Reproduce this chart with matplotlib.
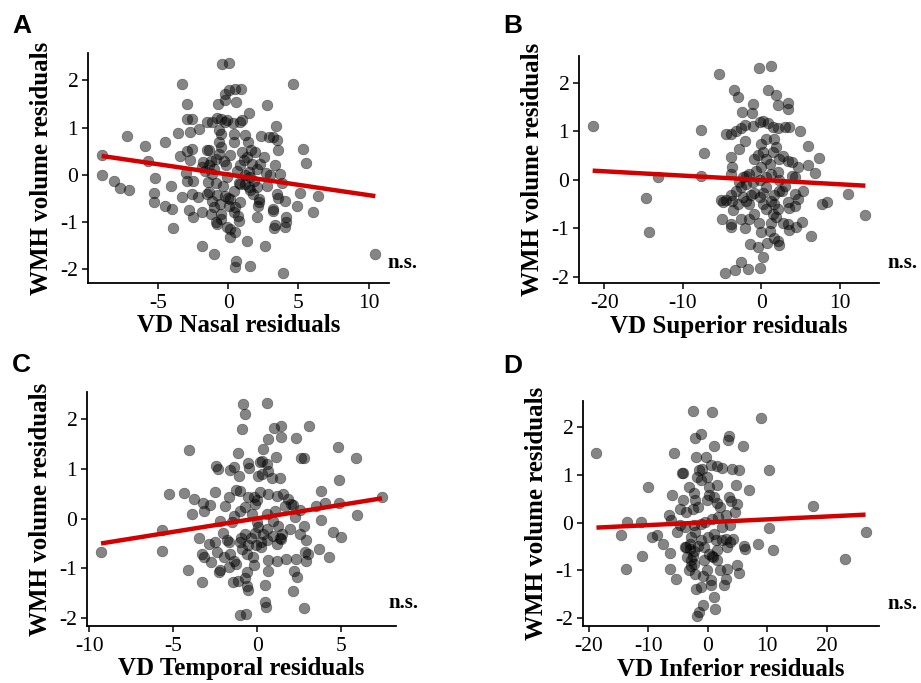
import numpy as np
import matplotlib
matplotlib.use('Agg')
import matplotlib.pyplot as plt

plt.rcParams['axes.unicode_minus'] = False
plt.rcParams['font.family'] = ['Liberation Serif', 'DejaVu Serif']

# (VD residual, WMH residual)
nasal = [(-9.0, 0.41), (-9.0, -0.01), (-8.1, -0.13), (-7.7, -0.28), (-7.06, -0.32), (-7.2, 0.82),
         (-5.95, 0.62), (-5.7, 0.30), (-5.2, -0.07), (-5.3, -0.39), (-5.3, -0.57), (-4.5, 0.70),
         (-4.5, -0.65), (-4.0, -0.72), (-4.1, -0.23), (-3.95, -1.13), (-3.27, 1.92), (-2.94, 1.50),
         (-3.55, 0.89), (-3.44, 0.40), (-3.3, -0.46), (-3.0, 0.04), (-2.94, 1.18), (-2.6, 1.18),
         (-2.75, 0.91), (-2.9, 0.50), (-2.59, 0.55), (-2.7, 0.32), (-2.9, -0.14), (-2.52, -0.14),
         (-2.78, -0.74), (-2.47, -0.90), (-2.54, -0.40), (-2.07, 0.98), (-2.14, -0.48), (-1.86, -1.50),
         (-1.84, -0.78), (-1.67, 0.09), (-1.76, 0.27), (-1.48, 1.13), (-1.18, 1.12), (-1.36, 0.52),
         (-1.44, -0.16), (-1.36, -0.37), (-1.48, -0.40), (-1.2, -0.83), (-1.0, -1.68), (-0.9, -1.0),
         (-0.78, -1.04), (-0.73, 1.51), (-0.82, 1.21), (-0.54, 1.18), (-0.66, 0.94), (-0.54, 0.87),
         (-0.54, 0.59), (-0.66, 0.45), (-0.9, 0.34), (-1.0, 0.13), (-1.13, 0.02), (-0.9, -0.18),
         (-0.78, -0.43), (-0.6, -0.62), (-0.47, 2.34), (0.09, 2.36), (-0.24, 1.72), (0.05, 1.79),
         (0.52, 1.81), (0.92, 1.82), (0.54, 1.55), (-0.26, 1.58), (-0.26, 1.12), (-0.07, 1.16),
         (0.35, 1.10), (0.82, 1.11), (0.99, 1.16), (1.46, 1.31), (1.22, 0.84), (1.39, 0.70),
         (0.4, 0.70), (0.16, 0.43), (-0.3, 0.30), (-0.14, 0.20), (-0.07, -0.05), (-0.35, -0.23),
         (-0.19, -0.44), (0.16, -0.51), (0.0, -0.49), (0.4, -0.35), (0.75, -0.18), (0.87, -0.19),
         (0.64, 0.09), (0.82, 0.20), (1.1, 0.32), (1.34, 0.38), (1.62, 0.52), (1.93, 0.48),
         (1.69, 0.23), (1.46, 0.06), (1.22, -0.01), (1.53, -0.05), (1.81, -0.12), (2.05, 0.13),
         (2.28, 0.23), (2.52, 0.38), (2.68, 0.04), (2.99, -0.01), (2.75, -0.23), (0.82, -0.58),
         (0.52, -0.69), (0.68, -0.87), (0.4, -0.79), (0.75, -0.97), (0.16, -1.15), (0.12, -1.31),
         (0.52, -1.22), (0.59, -1.82), (0.47, -1.96), (1.58, -1.94), (1.34, -1.40), (2.05, -0.89),
         (2.12, -0.65), (2.16, -0.58), (1.74, -0.40), (1.53, -0.33), (2.33, 0.82), (2.75, 1.49),
         (2.94, 0.80), (3.18, 0.80), (3.46, 0.73), (3.41, 1.04), (3.58, 0.52), (3.36, 0.20),
         (3.69, 0.02), (3.81, -0.18), (3.46, -0.40), (3.58, -0.49), (3.18, -0.72), (3.22, -0.77),
         (3.34, -1.06), (3.27, -1.13), (4.04, -0.55), (4.11, -0.90), (4.09, -1.0), (4.04, -1.10),
         (2.64, -1.50), (3.93, -2.07), (4.64, 1.92), (5.34, 0.55), (5.53, 0.25), (4.87, -0.65),
         (5.1, -0.39), (6.4, -0.44), (6.05, -0.78), (10.47, -1.68), (-0.66, 0.70), (-1.53, 0.52),
         (-1.25, 0.30), (-1.36, 0.21), (-1.84, 0.16), (-1.13, -0.55), (-1.0, -0.69), (-0.54, -0.83),
         (-0.54, -0.94), (-0.07, -1.11), (0.05, -0.65), (1.22, -0.19), (1.46, -0.26), (2.05, -0.26),
         (2.16, -0.51), (0.99, 0.48), (0.4, 0.87)]

superior = [(-21.5, 1.12), (-14.7, -0.38), (-14.3, -1.07), (-13.1, 0.07), (-7.7, 1.02), (-7.3, 0.55),
            (-7.7, 0.09), (-5.4, 2.19), (-5.1, -0.41), (-5.0, -0.81), (-4.6, -1.91), (-3.3, -1.86),
            (-2.6, -1.68), (-1.7, -1.84), (-0.1, -1.82), (0.3, -1.58), (-4.5, 0.94), (-3.5, 1.85),
            (-2.9, 1.71), (-3.8, 0.94), (-3.2, 1.0), (-2.6, 1.06), (-2.1, 1.14), (-2.4, 1.4),
            (-2.1, 0.81), (-2.8, 0.63), (-3.8, 0.47), (-3.7, 0.26), (-3.8, 0.12), (-4.5, -0.41),
            (-3.8, -0.32), (-3.7, -0.43), (-3.6, -0.61), (-3.8, -0.9), (-3.9, -0.96), (-2.6, -0.81),
            (-2.1, -1.0), (-1.5, -0.81), (-1.4, -1.32), (-1.1, 1.57), (-1.2, 1.38), (-0.3, 2.31),
            (1.3, 2.34), (0.85, 1.85), (1.9, 1.74), (2.1, 1.55), (3.4, 1.59), (3.4, 1.47),
            (-1.1, 1.12), (-0.2, 1.19), (0.2, 1.21), (0.85, 1.17), (1.5, 1.1), (2.1, 1.06),
            (3.0, 1.1), (3.6, 1.1), (0.0, 0.74), (0.6, 0.85), (1.7, 0.85), (1.9, 0.68),
            (1.5, 0.57), (4.9, 1.01), (6.0, 0.70), (7.4, 0.46), (6.0, 0.31), (6.9, 0.14),
            (4.0, 0.37), (4.7, 0.26), (3.4, 0.40), (2.8, 0.50), (2.3, 0.43), (-0.9, 0.43),
            (-0.4, 0.52), (0.2, 0.57), (0.6, 0.43), (1.1, 0.33), (0.0, 0.26), (-0.6, 0.19),
            (-1.5, 0.12), (-1.9, 0.09), (-2.3, 0.06), (-2.8, -0.05), (-2.6, -0.15), (-1.9, -0.08),
            (-1.1, -0.05), (-0.2, -0.01), (0.6, 0.06), (1.3, 0.12), (2.1, 0.16), (2.3, -0.01),
            (4.0, 0.09), (4.3, 0.06), (3.0, -0.12), (2.3, -0.22), (2.6, -0.23), (4.3, -0.28),
            (5.3, -0.22), (4.7, -0.39), (3.4, -0.46), (3.6, -0.57), (4.3, -0.53), (7.8, -0.5),
            (8.4, -0.45), (11.1, -0.28), (13.3, -0.72), (6.3, -1.15), (5.2, -0.86), (4.4, -0.97),
            (3.6, -1.03), (3.4, -0.9), (2.8, -0.88), (1.9, -0.77), (1.5, -0.7), (1.3, -0.88),
            (1.1, -1.05), (1.7, -1.19), (2.1, -1.26), (2.3, -1.34), (0.7, -1.3), (0.0, -1.08),
            (-0.4, -1.39), (-0.3, -0.88), (-0.9, -0.7), (-1.5, -0.5), (-1.9, -0.43), (-1.3, -0.32),
            (-0.9, -0.26), (-0.2, -0.36), (0.2, -0.5), (0.6, -0.6), (1.3, -0.43), (1.7, -0.32),
            (1.7, -0.5), (2.1, -0.6), (0.6, -0.15), (0.2, -0.26), (-2.3, -0.36), (-2.9, -0.5),
            (-3.2, -0.22), (-4.9, -0.46)]

temporal = [(-9.3, -0.68), (-5.67, -0.66), (-5.67, -0.23), (-5.27, 0.5), (-4.39, 0.51), (-4.06, 1.39),
            (-4.1, -1.03), (-3.31, -1.27), (-3.86, 0.09), (-3.76, 0.40), (-3.22, 0.31), (-3.18, 0.16),
            (-2.82, 0.28), (-3.47, -0.39), (-3.31, -0.71), (-3.18, -0.77), (-2.88, -0.51), (-2.78, -0.88),
            (-2.53, 0.53), (-2.49, 1.07), (-2.35, 1.0), (-2.53, -0.48), (-2.43, -0.68), (-2.29, -1.08),
            (-2.2, -1.03), (-2.24, -0.04), (-2.04, -0.28), (-1.8, -0.43), (-1.71, -0.48), (-2.0, -0.78),
            (-1.71, -0.98), (-1.94, 0.26), (-1.71, 0.43), (-1.65, 0.98), (-1.41, 1.05), (-1.16, 1.32),
            (-1.12, 0.87), (-1.41, 0.06), (-1.51, -0.07), (-1.65, -0.71), (-1.45, -1.28), (-1.18, -1.26),
            (-1.25, -0.91), (-1.41, -0.85), (-1.25, 0.58), (-1.02, 0.56), (-0.88, 2.31), (-0.76, 2.11),
            (-0.92, 1.81), (-0.53, 1.13), (-0.47, 1.03), (-1.06, 0.15), (-0.73, 0.23), (-0.53, 0.43),
            (-0.2, 0.44), (-0.04, 0.38), (-0.14, 0.30), (-0.33, 0.09), (-0.04, -0.07), (0.06, -0.17),
            (-0.14, -0.28), (-0.39, -0.38), (-0.73, -0.31), (-0.98, -0.38), (-1.06, -0.48), (-0.92, -0.61),
            (-0.53, -0.54), (-0.63, -0.71), (-0.27, -0.78), (-0.2, -0.93), (-0.63, -1.08), (-0.73, -1.19),
            (-0.63, -1.35), (-0.53, -1.44), (-1.02, -1.95), (-0.67, -1.92), (0.55, 2.34), (0.61, 1.6),
            (0.35, 1.4), (1.0, 1.82), (1.43, 1.87), (1.43, 1.64), (1.1, 1.25), (0.16, 1.15),
            (0.25, 1.16), (0.55, 1.1), (0.65, 0.97), (0.25, 0.9), (0.02, 0.87), (0.88, 0.83),
            (1.33, 0.82), (0.61, 0.5), (0.16, 0.53), (1.14, 0.46), (1.53, 0.5), (1.82, 0.40),
            (2.02, 0.30), (1.63, 0.26), (1.04, 0.16), (0.55, 0.09), (0.94, -0.04), (1.24, -0.14),
            (0.55, -0.21), (0.35, -0.31), (0.55, -0.44), (0.22, -0.48), (-0.08, -0.54), (0.22, -0.58),
            (0.94, -0.34), (1.33, -0.38), (1.14, -0.51), (1.39, -0.41), (1.49, -0.31), (1.92, -0.21),
            (2.22, 0.03), (2.51, 0.17), (2.12, 0.28), (2.61, 1.23), (2.75, 1.22), (2.27, 1.62),
            (3.1, 1.86), (3.49, 0.26), (4.04, 0.31), (3.78, 0.56), (4.86, 0.77), (4.82, 1.45),
            (5.84, 1.23), (5.9, 0.07), (4.86, 0.31), (3.78, -0.03), (4.47, -0.26), (4.96, -0.36),
            (4.24, -0.78), (3.69, -0.61), (2.9, -0.44), (3.0, -0.71), (2.9, -0.86), (2.86, -0.68),
            (2.76, -0.14), (2.51, -0.31), (2.27, -0.81), (1.69, -0.81), (1.14, -0.85), (0.65, -0.83),
            (0.65, -1.05), (0.45, -1.33), (0.45, -1.68), (0.49, -1.79), (2.18, -1.06), (2.37, -1.18),
            (2.12, -1.45), (2.76, -1.81), (7.41, 0.43)]

inferior = [(-18.7, 1.45), (-13.5, 0.01), (-13.7, -0.97), (-14.6, -0.25), (-11.2, 0.01), (-11.0, -0.69),
            (-10.0, 0.75), (-9.3, -0.3), (-8.6, -0.27), (-7.5, -0.44), (-6.4, -0.63), (-6.4, -0.97),
            (-5.3, -1.19), (-5.7, 1.45), (-6.0, 0.57), (-6.5, 0.15), (-6.2, 0.05), (-5.1, -0.2),
            (-4.6, -0.06), (-4.3, 1.03), (-4.1, 1.03), (-4.6, 0.29), (-4.1, 0.47), (-3.7, 0.22),
            (-3.9, -0.51), (-3.2, 0.75), (-2.5, 2.33), (-2.2, 1.77), (-1.1, 1.85), (-1.9, 1.37),
            (-0.3, 1.38), (-1.5, 1.11), (-0.9, 1.13), (0.6, 1.2), (1.6, 1.18), (2.4, 1.15),
            (4.1, 1.13), (5.2, 1.09), (0.7, 2.31), (1.0, 1.61), (3.5, 1.82), (3.4, 1.72),
            (5.9, 1.6), (8.9, 2.19), (10.2, 1.11), (4.8, 0.78), (7.0, 0.68), (17.6, 0.34),
            (-1.8, 0.96), (-1.1, 0.9), (-0.1, 0.95), (0.2, 0.75), (1.5, 0.78), (-2.3, 0.61),
            (-2.1, 0.48), (-1.7, 0.33), (-2.5, 0.29), (-0.1, 0.47), (0.2, 0.57), (1.1, 0.54),
            (1.6, 0.4), (2.1, 0.33), (3.5, 0.54), (3.9, 0.46), (4.9, 0.39), (4.5, 0.22),
            (3.0, 0.15), (1.7, 0.12), (0.7, 0.08), (-0.4, 0.01), (-1.2, -0.02), (-2.3, -0.06),
            (-2.1, -0.2), (-2.9, -0.3), (-3.0, -0.44), (-3.0, -0.55), (-2.3, -0.6), (-1.7, -0.5),
            (-2.5, -0.69), (-2.9, -0.79), (-2.3, -0.86), (-3.2, -1.0), (-2.1, -1.07), (-2.0, -1.39),
            (-1.1, -1.35), (-0.8, -1.11), (-0.2, -1.0), (-0.6, -0.79), (0.2, -0.65), (-0.7, -0.51),
            (-1.1, -0.37), (0.0, -0.3), (1.0, -0.23), (1.3, -0.37), (1.6, -0.58), (0.9, -0.72),
            (1.6, -0.79), (2.0, -1.0), (0.6, -1.2), (0.6, -1.3), (3.0, -1.18), (2.7, -1.3),
            (3.3, -0.97), (4.9, -0.88), (5.2, -1.05), (6.0, -0.48), (6.2, -0.55), (8.4, -0.44),
            (10.2, -0.11), (10.9, -0.58), (23.1, -0.77), (26.5, -0.2), (2.4, -0.37), (3.0, -0.34),
            (3.8, -0.41), (4.2, -0.34), (3.2, -0.51), (2.4, -0.09), (3.8, -0.06), (1.0, -1.56),
            (1.2, -1.81), (-0.8, -1.72), (-1.5, -1.88), (-1.8, -1.95), (0.7, -0.69), (-3.7, -0.51),
            (-3.5, -0.72), (-2.9, -0.9), (-3.9, -0.09)]

panel_data = [nasal, superior, temporal, inferior]
panel_letters = ['A', 'B', 'C', 'D']
x_labels = ['VD Nasal residuals', 'VD Superior residuals',
            'VD Temporal residuals', 'VD Inferior residuals']
x_ticks = [[-5, 0, 5, 10], [-20, -10, 0, 10], [-10, -5, 0, 5], [-20, -10, 0, 10, 20]]
y_ticks = [-2, -1, 0, 1, 2]

# linear fit (intercept, slope) as drawn in the figure
fit_intercept = [0.007, 0.0, 0.007, 0.007]
fit_slope = [-0.0437, -0.0089, 0.0545, 0.0060]

# axes rectangles in pixels: left, top, right, bottom
W, H = 921, 683
boxes = [(88, 53, 389, 283), (579, 56, 879, 283),
         (87, 392, 396, 626), (583, 401, 879, 626)]
letter_pos = [(12, 33), (503, 33), (12, 372), (503, 373)]
ns_pos = [(387, 268), (887, 268), (388, 608), (887, 609)]

fig = plt.figure(figsize=(W / 100, H / 100), dpi=100)

for i, pts in enumerate(panel_data):
    l, t, r, b = boxes[i]
    ax = fig.add_axes([l / W, 1 - b / H, (r - l) / W, (b - t) / H])
    xs, ys = np.array(pts).T

    ax.scatter(xs, ys, s=60, color='black', alpha=0.48, edgecolors='black',
               linewidths=0.4, zorder=2)
    lx = np.array([xs.min(), xs.max()])
    ax.plot(lx, fit_intercept[i] + fit_slope[i] * lx, color='#d40000',
            linewidth=3.2, solid_capstyle='butt', zorder=3)

    ax.margins(0.05)
    ax.set_xticks(x_ticks[i])
    ax.set_yticks(y_ticks)
    for s in ['top', 'right']:
        ax.spines[s].set_visible(False)
    for s in ['left', 'bottom']:
        ax.spines[s].set_linewidth(1.3)
    ax.tick_params(length=4, width=1.1, labelsize=15.5, colors='black', pad=3)
    ax.tick_params(axis='x', pad=4)

    ax.set_xlabel(x_labels[i], fontsize=18, fontweight='bold', labelpad=1)
    ax.set_ylabel('WMH volume residuals', fontsize=18, fontweight='bold', labelpad=5)

    fig.text(letter_pos[i][0] / W, 1 - letter_pos[i][1] / H, panel_letters[i],
             fontsize=19, fontweight='bold', family='Liberation Sans',
             ha='left', va='baseline')
    fig.text(ns_pos[i][0] / W, 1 - ns_pos[i][1] / H, 'n.s.', fontsize=15,
             fontweight='bold', ha='left', va='baseline')

plt.savefig('out.png', dpi=100)
plt.close()
